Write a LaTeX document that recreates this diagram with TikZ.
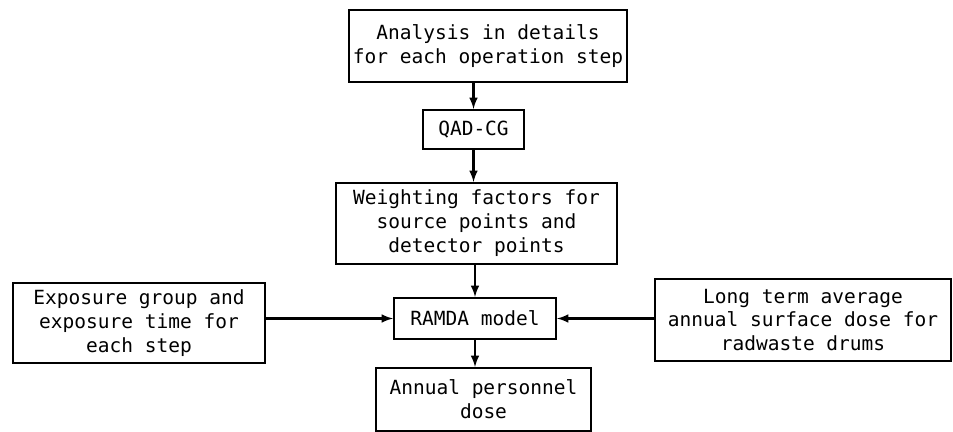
\documentclass[tikz,border=0pt]{standalone}
\usepackage{fontspec}
\setmonofont{DejaVu Sans Mono}
\usetikzlibrary{positioning}

\begin{document}
\begin{tikzpicture}[x=0.02cm, y=-0.02cm, >=latex, line width=1.2pt,
                    flow box/.style={rectangle,draw,align=center,inner sep=0pt,
                    font=\ttfamily\fontsize{11.1}{13.6}\selectfont}]

  \useasboundingbox (0,0) rectangle (953,432);

  \node[flow box, minimum width=5.56cm, minimum height=1.44cm] (analysis) at (488,46)
    {Analysis in details\\for each operation step};
  \node[flow box, minimum width=2.02cm, minimum height=0.78cm] (qad) at (473.5,129.5) {QAD-CG};
  \node[flow box, minimum width=5.62cm, minimum height=1.62cm] (weight) at (476.5,223.5)
    {Weighting factors for\\source points and\\detector points};
  \node[flow box, minimum width=3.24cm, minimum height=0.82cm] (ramda) at (475,318.5) {RAMDA model};
  \node[flow box, minimum width=5.04cm, minimum height=1.60cm] (expo) at (139,323)
    {Exposure group and\\exposure time for\\each step};
  \node[flow box, minimum width=5.92cm, minimum height=1.64cm] (longterm) at (803,320)
    {Long term average\\annual surface dose for\\radwaste drums};
  \node[flow box, minimum width=4.30cm, minimum height=1.26cm] (annual) at (483.5,399.5)
    {Annual personnel\\dose};

  % vertical chain
  \draw[->] (analysis.south -| qad.north) -- (qad.north);
  \draw[->] (qad.south) -- (qad.south |- weight.north);
  \draw[->] (weight.south -| ramda.north) -- (ramda.north);
  \draw[->] (ramda.south) -- (ramda.south |- annual.north);

  % side inputs
  \draw[->] (expo.east |- ramda.west) -- (ramda.west);
  \draw[->] (longterm.west |- ramda.east) -- (ramda.east);
\end{tikzpicture}
\end{document}
